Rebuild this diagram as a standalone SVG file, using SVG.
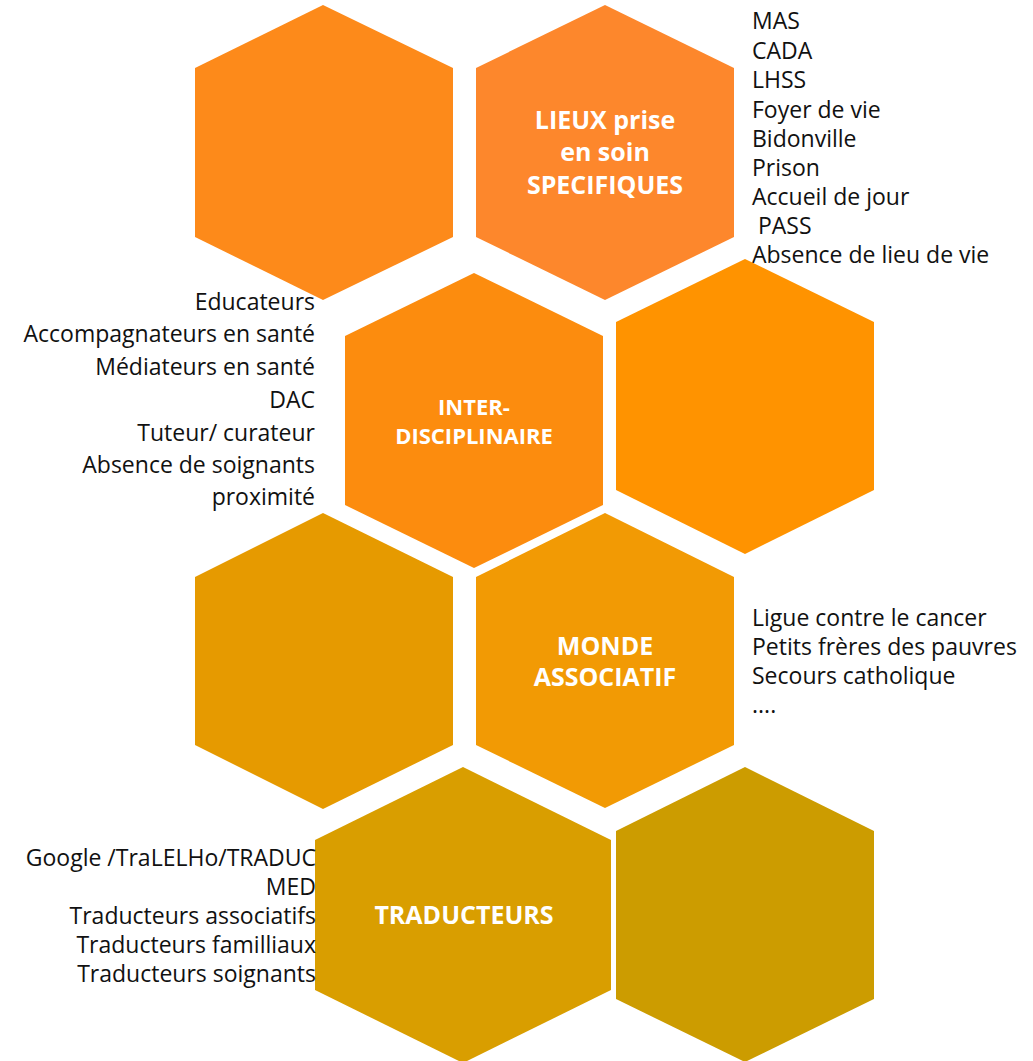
<svg xmlns="http://www.w3.org/2000/svg" width="1033" height="1061" viewBox="0 0 1033 1061">
<style>
.list{font-family:"Open Sans","Liberation Sans",sans-serif;font-size:23px;fill:#111}
.l{text-anchor:start}
.r{text-anchor:end}
.title{font-family:"Open Sans","Liberation Sans",sans-serif;font-weight:bold;fill:#fff;text-anchor:middle}
</style>
<rect width="1033" height="1061" fill="#fff"/>
<g id="connectors"/>
<g id="hex-top-left">
<polygon points="323,5 453,68 453,237 323,300 195,237 195,68" fill="#FD8A1A"/>
</g>
<g id="hex-lieux">
<polygon points="605,5 734,68 734,237 605,300 476,237 476,68" fill="#FD872C"/>
<text class="title" x="605" y="129" font-size="25">LIEUX prise</text>
<text class="title" x="605" y="161" font-size="25">en soin</text>
<text class="title" x="605" y="194" font-size="25">SPECIFIQUES</text>
<text class="list l" x="752" y="29">MAS</text>
<text class="list l" x="752" y="59">CADA</text>
<text class="list l" x="752" y="88">LHSS</text>
<text class="list l" x="752" y="118">Foyer de vie</text>
<text class="list l" x="752" y="147">Bidonville</text>
<text class="list l" x="752" y="176">Prison</text>
<text class="list l" x="752" y="205">Accueil de jour</text>
<text class="list l" x="752" y="234" xml:space="preserve"> PASS</text>
<text class="list l" x="752" y="263">Absence de lieu de vie</text>
</g>
<g id="hex-inter">
<polygon points="474,273 603,336 603,505 474,568 345,505 345,336" fill="#FC8C0E"/>
<text class="title" x="474" y="415" font-size="22">INTER-</text>
<text class="title" x="474" y="444" font-size="22">DISCIPLINAIRE</text>
<text class="list r" x="315" y="310">Educateurs</text>
<text class="list r" x="315" y="342">Accompagnateurs en santé</text>
<text class="list r" x="315" y="375">Médiateurs en santé</text>
<text class="list r" x="315" y="408">DAC</text>
<text class="list r" x="315" y="441">Tuteur/ curateur</text>
<text class="list r" x="315" y="473">Absence de soignants</text>
<text class="list r" x="315" y="505">proximité</text>
</g>
<g id="hex-mid-right">
<polygon points="745,259 874,322 874,490 745,554 616,490 616,322" fill="#FF9300"/>
</g>
<g id="hex-row3-left">
<polygon points="323,513 453,577 453,745 323,809 195,745 195,577" fill="#E69A00"/>
</g>
<g id="hex-monde">
<polygon points="605,513 734,577 734,745 605,808 476,745 476,577" fill="#F29A04"/>
<text class="title" x="605" y="655" font-size="25">MONDE</text>
<text class="title" x="605" y="686" font-size="25">ASSOCIATIF</text>
<text class="list l" x="752" y="626">Ligue contre le cancer</text>
<text class="list l" x="752" y="655">Petits frères des pauvres</text>
<text class="list l" x="752" y="684">Secours catholique</text>
<text class="list l" x="752" y="713">....</text>
</g>
<g id="hex-traducteurs">
<polygon points="463,767 611,840 611,990 463,1063 315,990 315,840" fill="#D99E00"/>
<text class="title" x="464" y="924" font-size="25">TRADUCTEURS</text>
<text class="list r" x="316" y="866">Google /TraLELHo/TRADUC</text>
<text class="list r" x="316" y="895">MED</text>
<text class="list r" x="316" y="924">Traducteurs associatifs</text>
<text class="list r" x="316" y="953">Traducteurs familliaux</text>
<text class="list r" x="316" y="982">Traducteurs soignants</text>
</g>
<g id="hex-bottom-right">
<polygon points="745,767 874,831 874,999 745,1062 616,999 616,831" fill="#CC9C00"/>
</g>
</svg>
